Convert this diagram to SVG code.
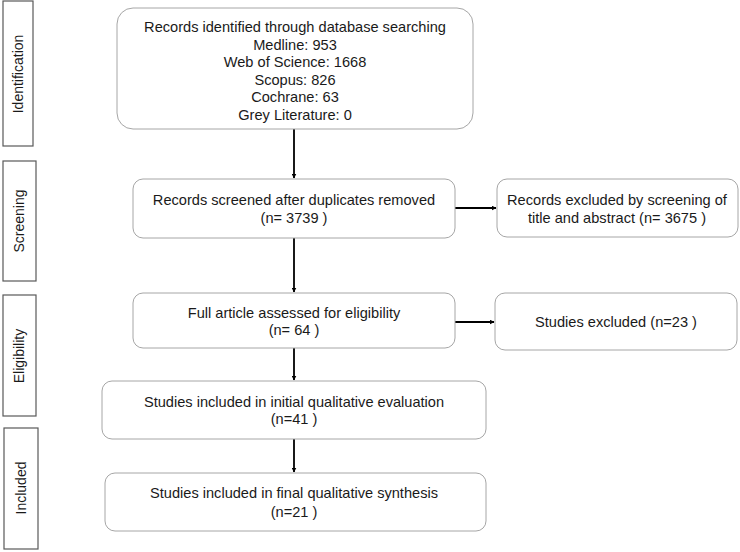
<svg xmlns="http://www.w3.org/2000/svg" width="740" height="552" viewBox="0 0 740 552">
<defs>
<marker id="ah" viewBox="0 0 10 10" refX="9" refY="5" markerWidth="5" markerHeight="5" orient="auto" markerUnits="userSpaceOnUse">
<path d="M0,0 L10,5 L0,10 z" fill="#000"/>
</marker>
<style>
.box{fill:#fff;stroke:#a6a6a6;stroke-width:1}
.side{fill:#fff;stroke:#595959;stroke-width:1.2}
.t{font-family:"Liberation Sans",Arial,sans-serif;font-size:14.6px;fill:#1a1a1a;text-anchor:middle}
.s{font-family:"Liberation Sans",Arial,sans-serif;font-size:14px;fill:#1a1a1a;text-anchor:middle}
.c{stroke:#000;stroke-width:1.8;fill:none;marker-end:url(#ah)}
</style>
</defs>
<rect width="740" height="552" fill="#fff"/>
<g id="side-identification">
<rect class="side" x="3" y="1" width="30" height="145"/>
<text class="s" transform="translate(23,74) rotate(-90)">Identification</text>
</g>
<g id="side-screening">
<rect class="side" x="3" y="161" width="33" height="120"/>
<text class="s" transform="translate(24,221) rotate(-90)">Screening</text>
</g>
<g id="side-eligibility">
<rect class="side" x="3" y="295" width="33" height="121"/>
<text class="s" transform="translate(24,356) rotate(-90)">Eligibility</text>
</g>
<g id="side-included">
<rect class="side" x="4" y="428" width="34" height="121"/>
<text class="s" transform="translate(26,488) rotate(-90)">Included</text>
</g>
<g id="connectors">
<line class="c" x1="294" y1="129" x2="294" y2="178"/>
<line class="c" x1="455" y1="208" x2="496" y2="208"/>
<line class="c" x1="294" y1="238" x2="294" y2="292"/>
<line class="c" x1="455" y1="322" x2="494" y2="322"/>
<line class="c" x1="294" y1="348" x2="294" y2="380"/>
<line class="c" x1="294" y1="439" x2="294" y2="472"/>
</g>
<g id="n-identified">
<rect class="box" x="117" y="8" width="356" height="121" rx="16"/>
<text class="t" x="295" y="32">Records identified through database searching</text>
<text class="t" x="295" y="49.5">Medline: 953</text>
<text class="t" x="295" y="67">Web of Science: 1668</text>
<text class="t" x="295" y="84.5">Scopus: 826</text>
<text class="t" x="295" y="102">Cochrane: 63</text>
<text class="t" x="295" y="119.5">Grey Literature: 0</text>
</g>
<g id="n-screened">
<rect class="box" x="133" y="179" width="322" height="59" rx="10"/>
<text class="t" x="294" y="205">Records screened after duplicates removed</text>
<text class="t" x="294" y="223">(n= 3739 )</text>
</g>
<g id="n-excluded1">
<rect class="box" x="497" y="179" width="241" height="58" rx="10"/>
<text class="t" x="617" y="205">Records excluded by screening of</text>
<text class="t" x="617" y="223">title and abstract (n= 3675 )</text>
</g>
<g id="n-fulltext">
<rect class="box" x="133" y="293" width="322" height="55" rx="10"/>
<text class="t" x="294" y="318">Full article assessed for eligibility</text>
<text class="t" x="294" y="335">(n= 64 )</text>
</g>
<g id="n-excluded2">
<rect class="box" x="495" y="293" width="242" height="57" rx="10"/>
<text class="t" x="616" y="327">Studies excluded (n=23 )</text>
</g>
<g id="n-initial">
<rect class="box" x="102" y="381" width="384" height="58" rx="10"/>
<text class="t" x="294" y="407">Studies included in initial  qualitative  evaluation</text>
<text class="t" x="294" y="424">(n=41 )</text>
</g>
<g id="n-final">
<rect class="box" x="105" y="473" width="381" height="58" rx="10"/>
<text class="t" x="294" y="498">Studies included in final qualitative synthesis</text>
<text class="t" x="294" y="517">(n=21 )</text>
</g>
</svg>
